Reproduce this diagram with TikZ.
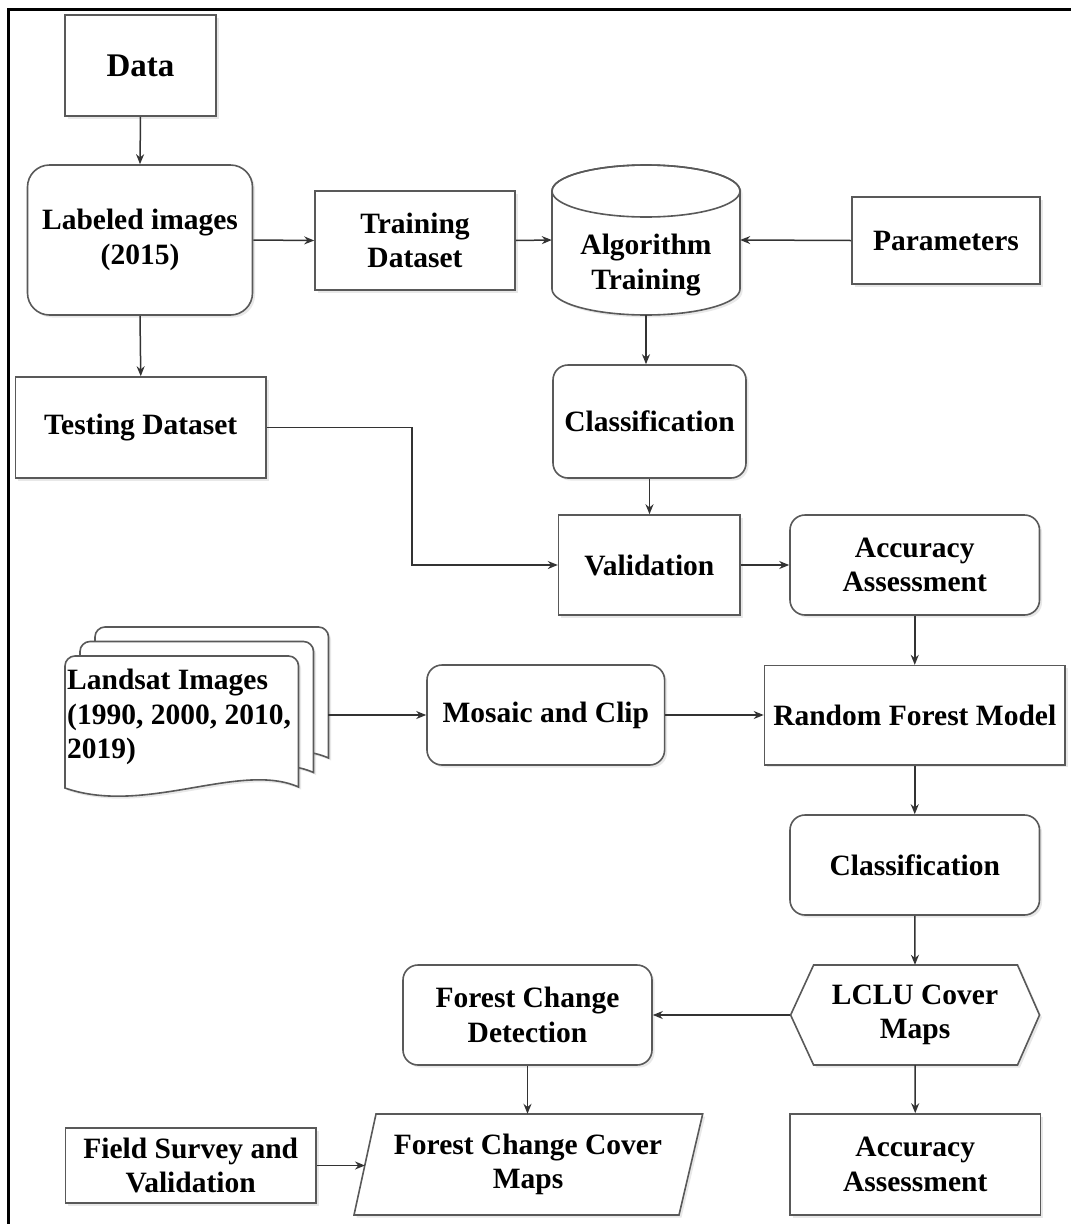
\documentclass[tikz,border=0pt]{standalone}
\usepackage{fontspec}
\setmainfont{Liberation Serif}
\usetikzlibrary{arrows.meta,shadows,calc}
\begin{document}
\begin{tikzpicture}[x=1pt,y=-1pt,
  shadowed/.style={drop shadow={shadow xshift=2.5pt,shadow yshift=-2.5pt,opacity=0.18}},
  txt/.style={font=\bfseries\fontsize{29.5}{34.5}\selectfont, align=center, inner sep=0pt},
  box/.style={txt, draw=black!65, line width=1.6pt, fill=white, shadowed},
  rbox/.style={box, rounded corners=15pt},
  shp/.style={draw=black!65, line width=1.6pt, fill=white, shadowed},
  arr/.style={-{Stealth[length=10pt,width=8pt]}, line width=1.5pt, draw=black!80},
]
\useasboundingbox (0,0) rectangle (1071,1224);
\clip (0,0) rectangle (1071,1224);
% frame
\draw[line width=3pt, black] (1100,9) -| (8,1250);

% boxes
\node[box, font=\bfseries\fontsize{33}{38}\selectfont, minimum width=151pt, minimum height=101pt] (data) at (140.5,65.5) {Data};
\node[box, rounded corners=22pt, minimum width=225pt, minimum height=150pt] (lab) at (140,240) {Labeled images\\(2015)};
\node[box, minimum width=200pt, minimum height=99pt] (train) at (415,240.5) {Training\\Dataset};

% cylinder
\draw[shp] (552,191) -- (552,289) arc[start angle=180,end angle=0,x radius=94,y radius=26] -- (740,191) arc[start angle=0,end angle=-180,x radius=94,y radius=26] -- cycle;
\draw[draw=black!65, line width=1.6pt] (646,191) ellipse[x radius=94, y radius=26];
\node[inner sep=0pt, minimum width=188pt, minimum height=150pt] (alg) at (646,240) {};
\node[txt] (algtxt) at (646,265) {Algorithm\\Training};

\node[box, minimum width=188pt, minimum height=87pt] (param) at (946,240.5) {Parameters};
\node[rbox, minimum width=193pt, minimum height=113pt] (cls1) at (649.5,421.5) {Classification};
\node[box, minimum width=250.5pt, minimum height=101pt] (test) at (140.75,427.5) {Testing Dataset};
\node[box, minimum width=181.4pt, minimum height=100pt] (val) at (649.3,565) {Validation};
\node[rbox, minimum width=249.5pt, minimum height=100pt] (acc1) at (914.75,565) {Accuracy\\Assessment};

% Landsat multi-document
\foreach \dx/\dy in {30/-29,15/-14.5,0/0}{
  \begin{scope}[shift={(65+\dx,656+\dy)}]
    \draw[shp] (0,132) -- (0,10) arc[start angle=180,end angle=270,radius=10] -- (223.5,0) arc[start angle=270,end angle=360,radius=10] -- (233.5,131) .. controls (175,105) and (80,160) .. (0,132) -- cycle;
  \end{scope}
}
\node[inner sep=0pt, minimum width=263pt, minimum height=161pt] (landsat) at (196.5,707.5) {};
\node[txt, align=left, anchor=west] (lstxt) at (67,717) {Landsat Images\\(1990, 2000, 2010,\\2019)};

\node[rbox, minimum width=237.6pt, minimum height=100pt] (mosaic) at (545.8,715) {Mosaic and Clip};
\node[box, minimum width=300.5pt, minimum height=99.3pt] (rf) at (914.75,715.3) {Random Forest Model};
\node[rbox, minimum width=249.5pt, minimum height=100pt] (cls2) at (914.75,865) {Classification};

% LCLU hexagon
\draw[shp] (790.6,1015) -- (813.6,965) -- (1017.5,965) -- (1039.5,1015) -- (1017.5,1065) -- (813.6,1065) -- cycle;
\node[txt, minimum width=249pt, minimum height=100pt] (lclu) at (915,1015) {LCLU Cover\\Maps};

\node[rbox, minimum width=249pt, minimum height=100pt] (fcd) at (527.5,1015) {Forest Change\\Detection};
\node[box, minimum width=250.6pt, minimum height=75pt] (field) at (190.7,1165.5) {Field Survey and\\Validation};

% parallelogram
\draw[shp] (376,1114) -- (702.7,1114) -- (679,1215) -- (354,1215) -- cycle;
\node[txt, minimum width=326pt, minimum height=101pt] (fccm) at (528,1164.5) {Forest Change Cover\\Maps};
\coordinate (fccmW) at (365,1165.5);

\node[box, minimum width=250.5pt, minimum height=101pt] (acc2) at (915.25,1164.5) {Accuracy\\Assessment};

% connectors
\draw[arr] (data.south) -- (lab.north);
\draw[arr] (lab.east) -- (train.west);
\draw[arr] (train.east) -- (alg.west);
\draw[arr] (param.west) -- (alg.east);
\draw[arr] (alg.south) -- (alg.south |- cls1.north);
\draw[arr] (lab.south) -- (test.north);
\draw[arr] (test.east) -- (412,0 |- test.east) |- (val.west);
\draw[arr] (cls1.south) -- (cls1.south |- val.north);
\draw[arr] (val.east) -- (acc1.west);
\draw[arr] (acc1.south) -- (rf.north);
\draw[arr] (landsat.east |- mosaic.west) -- (mosaic.west);
\draw[arr] (mosaic.east) -- (mosaic.east -| rf.west);
\draw[arr] (rf.south) -- (cls2.north);
\draw[arr] (cls2.south) -- (lclu.north);
\draw[arr] (lclu.west) -- (lclu.west -| fcd.east);
\draw[arr] (lclu.south) -- (acc2.north);
\draw[arr] (fcd.south) -- (fcd.south |- fccm.north);
\draw[arr] (field.east) -- (fccmW);
\end{tikzpicture}
\end{document}
